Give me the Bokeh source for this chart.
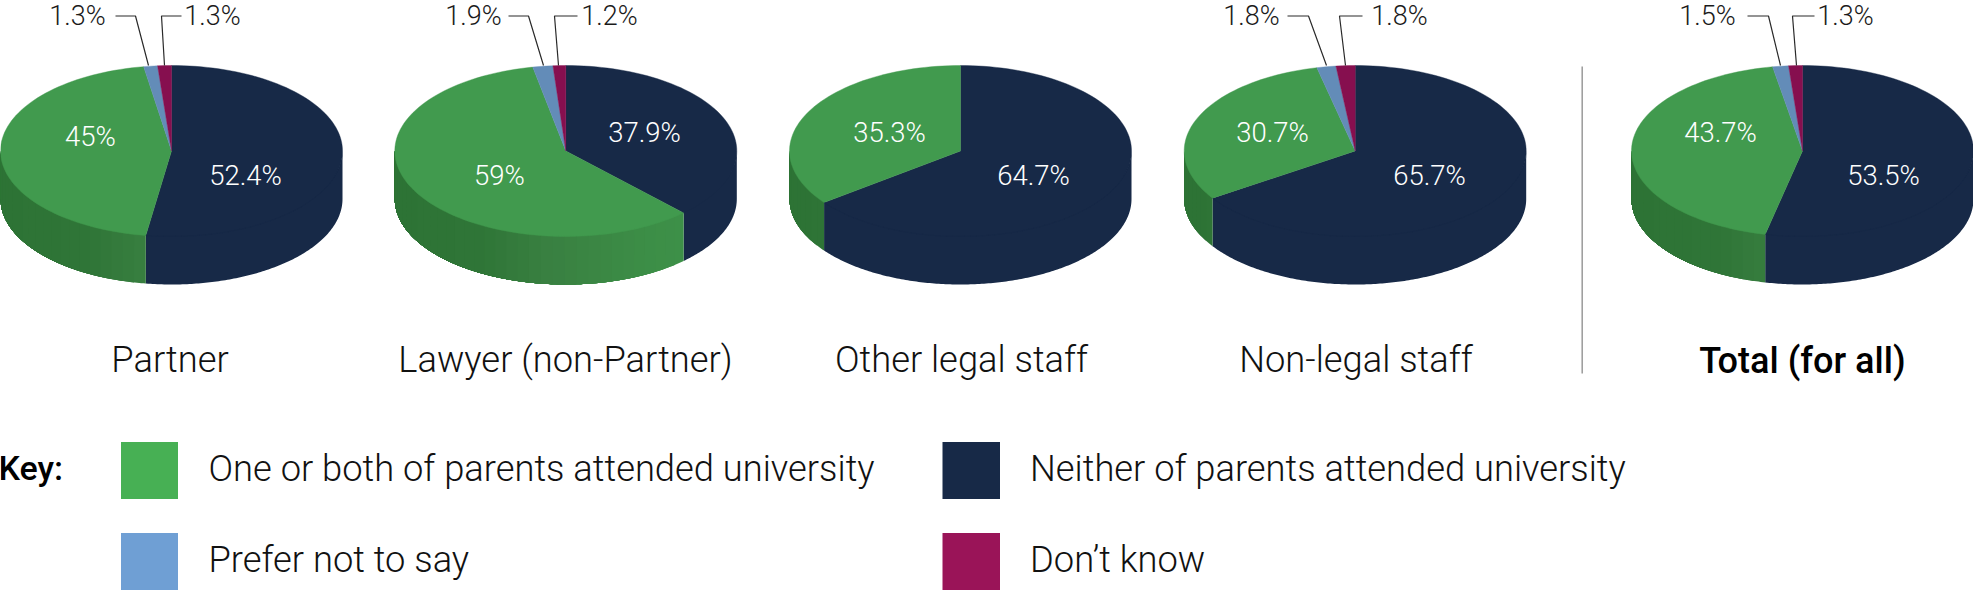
import math
from bokeh.plotting import figure
from bokeh.models import Range1d
from bokeh.core.properties import value
from bokeh.embed import file_html
from bokeh.resources import INLINE

# ---- data ----
categories = ["Partner", "Lawyer (non-Partner)", "Other legal staff", "Non-legal staff", "Total (for all)"]
neither = [52.4, 37.9, 64.7, 65.7, 53.5]
one_or_both = [45, 59, 35.3, 30.7, 43.7]
prefer_not = [1.3, 1.9, 0, 1.8, 1.5]
dont_know = [1.3, 1.2, 0, 1.8, 1.3]
legend_labels = ["One or both of parents attended university", "Neither of parents attended university",
                 "Prefer not to say", "Don\u2019t know"]

# ---- layout and style ----
W, H = 1973, 590
centers = [171, 565.3, 960, 1354.7, 1802]
category_x = [169.5, 565, 961, 1355.5]
CY, RX, RY, DEPTH = 150.5, 171, 85.5, 48
inner_pos = [((245, 175), (90, 136)), ((644, 132), (499, 175)), ((1033, 175), (889, 132)),
             ((1429, 175), (1272, 132)), ((1883, 175), (1720, 132))]
left_label = [(77, [115, 135, 148]), (473, [508, 528, 543]), None, (1251, [1287, 1308, 1326]), (1707, [1747, 1768, 1780])]
right_label = [(212, [181, 161, 164]), (609, [577, 554, 558]), None, (1399, [1362, 1339, 1345]), (1845, [1814, 1792, 1796])]
NAVY, GREEN_TOP, BLUE_TOP, MAG_TOP = "#172947", "#419a4e", "#638cb8", "#860f4f"
GREEN_KEY, BLUE_KEY, MAG_KEY = "#47b054", "#6f9fd4", "#9a1458"
LIGHT, MEDIUM = value("Roboto Light"), value("Roboto Medium")

p = figure(width=W, height=H, output_backend="svg", toolbar_location=None,
           x_range=Range1d(0, W), y_range=Range1d(H, 0),
           min_border=0, x_axis_location=None, y_axis_location=None,
           outline_line_color=None, background_fill_color="white", border_fill_color="white")
p.grid.visible = False
p.styles = {"position": "absolute", "left": "0px", "top": "0px"}


def pt(cx, deg, dy=0.0):
    r = math.radians(deg)
    return cx + RX * math.sin(r), CY - RY * math.cos(r) + dy


def green_side(t):
    stops = [(0.0, (45, 115, 53)), (0.25, (47, 117, 55)), (0.45, (57, 128, 65)), (0.7, (60, 140, 70)), (1.0, (63, 150, 75))]
    for (a, ca), (b, cb) in zip(stops, stops[1:]):
        if t <= b:
            f = (t - a) / (b - a)
            return "#%02x%02x%02x" % tuple(round(u + (v - u) * f) for u, v in zip(ca, cb))
    return "#3f964b"


top_x, top_y, top_c = [], [], []
side_x, side_y, side_c = [], [], []


def add_wall(cx, a0, a1, col):
    n = max(1, int((a1 - a0) / 3))
    low = [pt(cx, a0 + (a1 - a0) * k / (n * 4)) for k in range(n * 4 + 1)]
    xs = [q[0] for q in low] + [q[0] for q in reversed(low)]
    # the upper edge runs a little under the top face, so no light seam shows between them
    ys = [q[1] - 1.5 for q in low] + [q[1] + DEPTH for q in reversed(low)]
    side_x.append(xs)
    side_y.append(ys)
    side_c.append(col)


for i, cx in enumerate(centers):
    start = 0.0
    slices = [(neither[i], NAVY), (one_or_both[i], GREEN_TOP), (prefer_not[i], BLUE_TOP), (dont_know[i], MAG_TOP)]
    for val, col in slices:
        if val <= 0:
            continue
        end = start + val * 3.6
        # side wall of the part of the slice that faces the viewer
        a0, a1 = max(start, 90.0), min(end, 270.0)
        if a1 > a0:
            if col == GREEN_TOP:
                # each step reaches to the far end of the wall, the next one paints over it: no seams
                step = 4.0
                u = a0
                while u < a1:
                    mid = min(u + step / 2, a1)
                    t = (pt(cx, mid)[0] - (cx - RX)) / (2 * RX)
                    add_wall(cx, u, a1, green_side(t))
                    u += step
            else:
                add_wall(cx, a0, a1, col)
        n = max(2, int((end - start) / 2))
        arc = [pt(cx, start + (end - start) * k / n) for k in range(n + 1)]
        top_x.append([cx] + [q[0] for q in arc])
        top_y.append([CY] + [q[1] for q in arc])
        top_c.append(col)
        start = end

p.patches(side_x, side_y, fill_color=side_c, line_color=None)
p.patches(top_x, top_y, fill_color=top_c, line_color=top_c, line_width=0.4)

# leader lines and outer labels
LEAD_Y, TOP_Y = 15.5, 65
lx, ly, tx, ty, tt = [], [], [], [], []
for i in range(len(centers)):
    if left_label[i]:
        lab, xs = left_label[i]
        lx.append(xs)
        ly.append([LEAD_Y, LEAD_Y, TOP_Y])
        tx.append(lab); ty.append(15); tt.append(f"{prefer_not[i]}%")
        lab, xs = right_label[i]
        lx.append(xs)
        ly.append([LEAD_Y, LEAD_Y, TOP_Y])
        tx.append(lab); ty.append(15); tt.append(f"{dont_know[i]}%")
p.multi_line(lx, ly, line_color="#2a2a2a", line_width=1.2)
p.text(tx, ty, text=tt, text_font=LIGHT, text_font_size="27px", text_color="#1a1a1a",
       text_align="center", text_baseline="middle")

# inner labels
ix, iy, it = [], [], []
for i in range(len(centers)):
    (nx, ny), (gx, gy) = inner_pos[i]
    ix += [nx, gx]
    iy += [ny, gy]
    it += [f"{neither[i]}%", f"{one_or_both[i]}%"]
p.text(ix, iy, text=it, text_font=LIGHT, text_font_size="27.5px", text_color="#ffffff",
       text_align="center", text_baseline="middle")

# category labels
p.text(category_x, [359] * 4, text=categories[:4], text_font=LIGHT, text_font_size="36.3px", text_color="#111111",
       text_align="center", text_baseline="middle")
p.text([centers[4]], [360], text=[categories[4]], text_font=MEDIUM, text_font_size="36px", text_color="#000000",
       text_align="center", text_baseline="middle")

# separator
p.line([1581.7, 1581.7], [66, 373], line_color="#9a9a9a", line_width=1.5)

# key
p.text([-2], [467], text=["Key:"], text_font=MEDIUM, text_font_size="34px", text_color="#000000",
       text_align="left", text_baseline="middle")
p.quad(left=[120.5, 942, 120.5, 942], right=[177.5, 999.5, 177.5, 999.5],
       top=[441.5, 441.5, 532.5, 532.5], bottom=[498.5, 498.5, 589.5, 589.5],
       fill_color=[GREEN_KEY, NAVY, BLUE_KEY, MAG_KEY], line_color=None)
p.text([208, 1029.5, 208, 1029.5], [468, 468, 559, 559], text=legend_labels,
       text_font=LIGHT, text_font_size="36.3px", text_color="#111111", text_align="left", text_baseline="middle")

open("out.html", "w").write(file_html(p, INLINE))
